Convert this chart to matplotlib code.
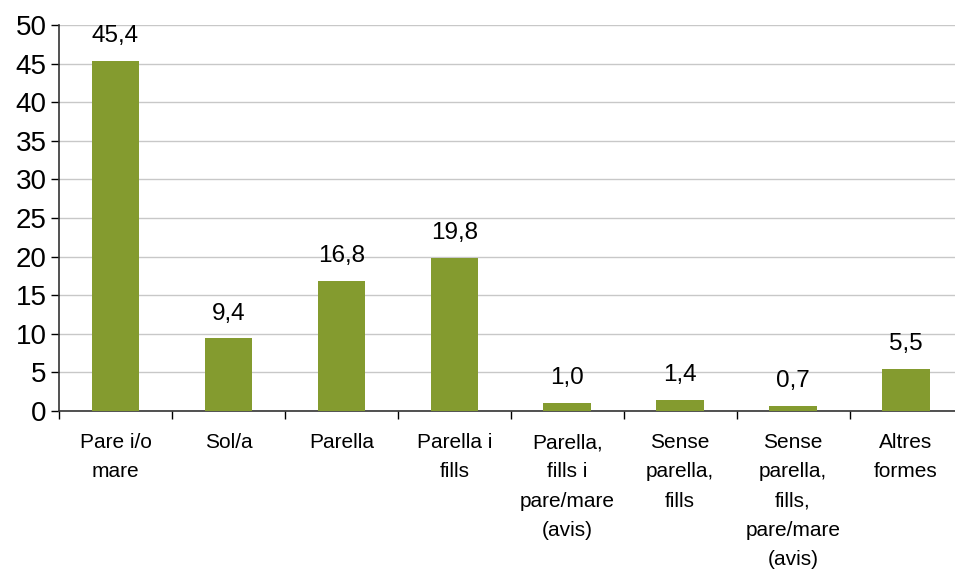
import matplotlib.pyplot as plt

categories = ['Pare i/o\nmare', 'Sol/a', 'Parella', 'Parella i\nfills',
              'Parella,\nfills i\npare/mare\n(avis)', 'Sense\nparella,\nfills',
              'Sense\nparella,\nfills,\npare/mare\n(avis)', 'Altres\nformes']
values = [45.4, 9.4, 16.8, 19.8, 1.0, 1.4, 0.7, 5.5]
labels = ['45,4', '9,4', '16,8', '19,8', '1,0', '1,4', '0,7', '5,5']

plt.rcParams['font.family'] = ['Liberation Sans', 'DejaVu Sans']

fig = plt.figure(figsize=(9.55, 5.72), dpi=100)
ax = fig.add_axes([0.0618, 0.2815, 0.946, 0.6745])

x = range(len(values))
bars = ax.bar(x, values, width=0.42, color='#849B2F', zorder=3)

for b, lab in zip(bars, labels):
    ax.annotate(lab, (b.get_x() + b.get_width() / 2, b.get_height()),
                xytext=(0, 10), textcoords='offset points',
                ha='center', va='bottom', fontsize=17.5)

ax.set_xlim(-0.5, len(values) - 0.5)
ax.set_ylim(0, 50)
ax.set_yticks(range(0, 51, 5))
ax.tick_params(axis='y', labelsize=20, length=6, width=1, direction='out', pad=3)
ax.set_xticks([i - 0.5 for i in range(len(values) + 1)])
ax.set_xticklabels([])
ax.set_xticks(list(x), minor=True)
ax.set_xticklabels(categories, minor=True, fontsize=15, linespacing=1.68, va='top')
ax.tick_params(axis='x', which='minor', length=0, pad=16)
ax.tick_params(axis='x', which='major', length=6, width=1, direction='out')

ax.yaxis.grid(True, color='#C8C8C8', linewidth=1, zorder=0)
for s in ['top', 'right']:
    ax.spines[s].set_visible(False)
for s in ['left', 'bottom']:
    ax.spines[s].set_color('#333333')
    ax.spines[s].set_linewidth(1.2)

fig.savefig('out.png', dpi=100)
